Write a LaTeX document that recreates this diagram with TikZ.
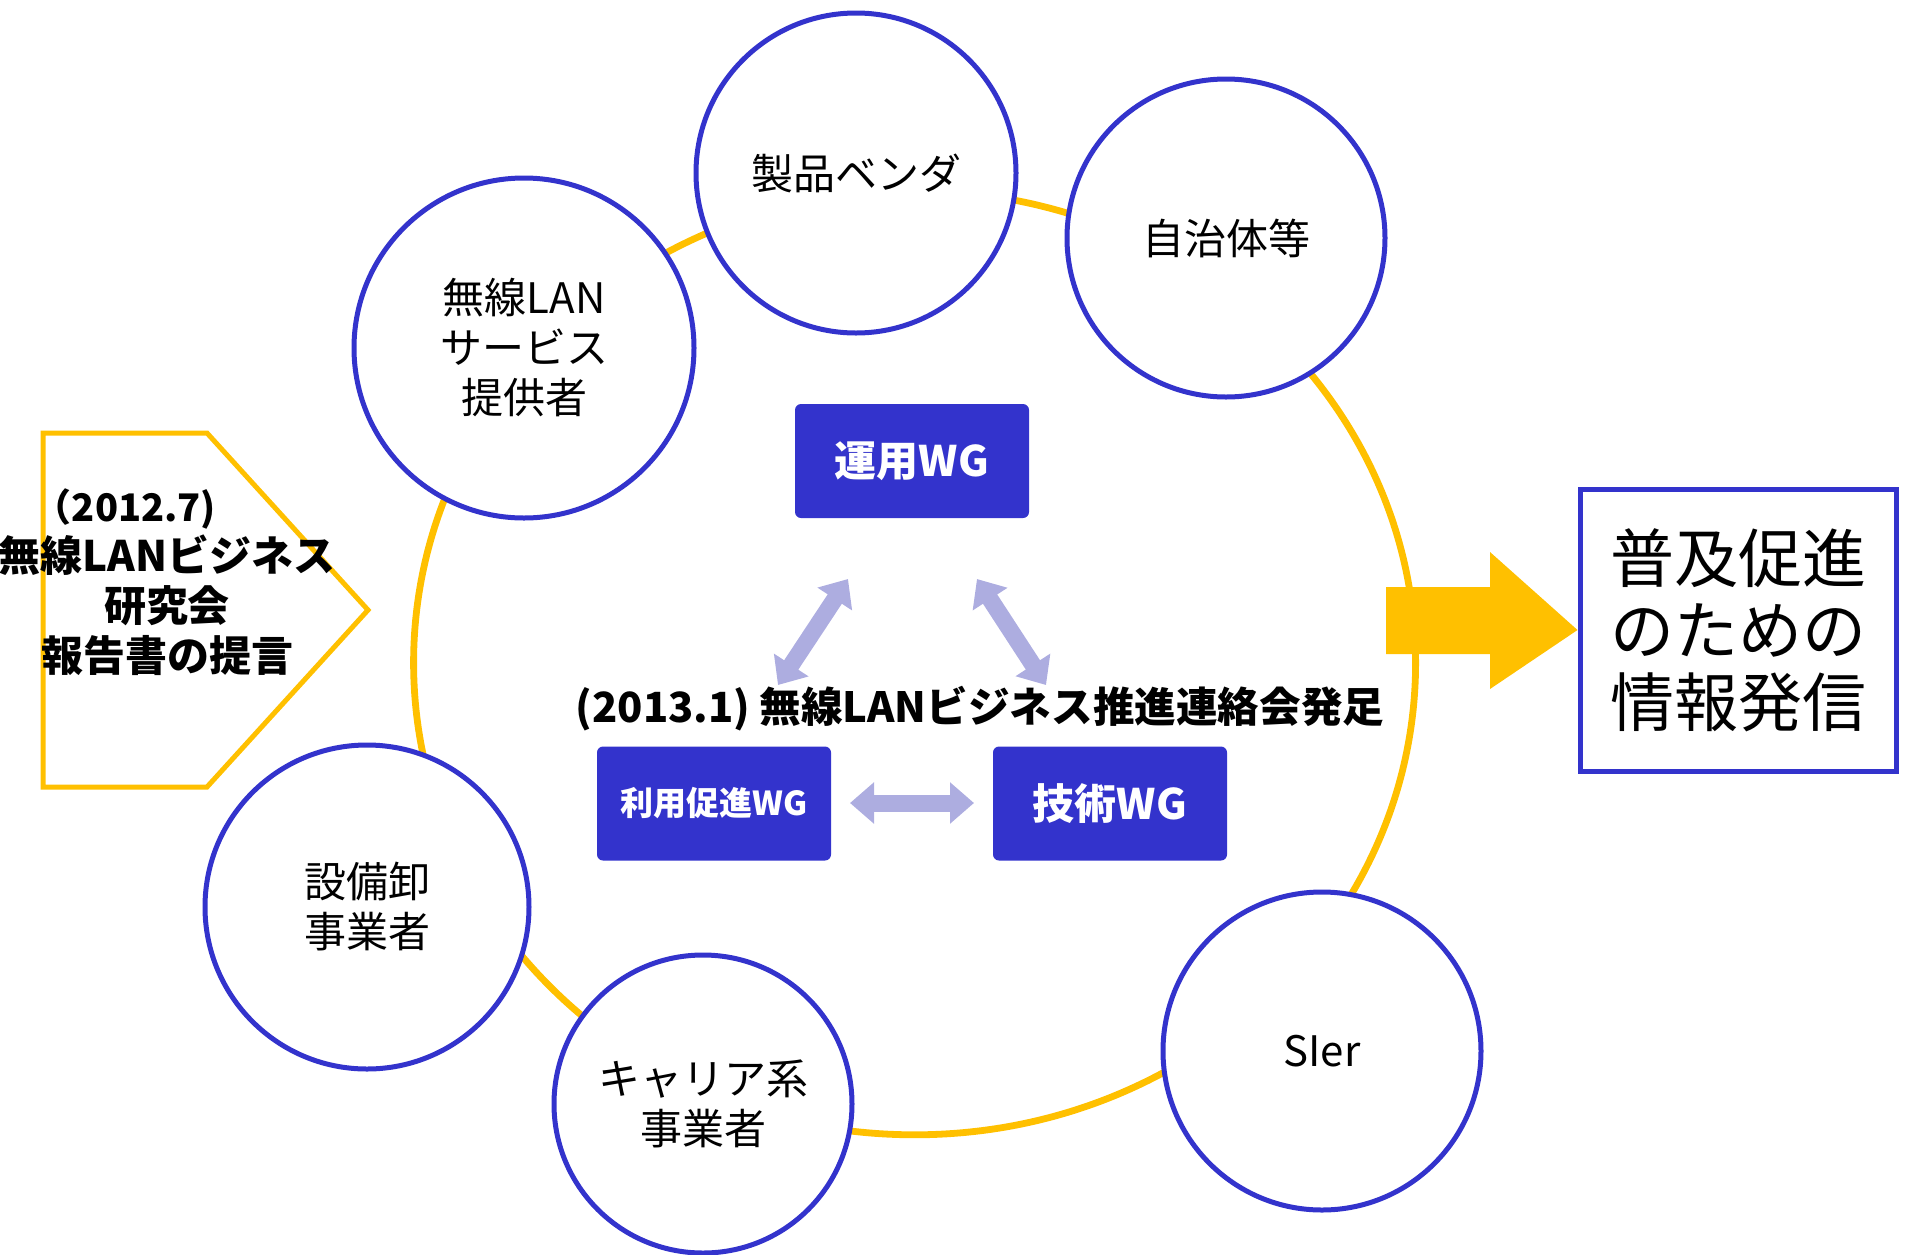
\documentclass[tikz,border=0pt]{standalone}
\usepackage{fontspec}
\setmainfont{Noto Sans CJK JP}
\usetikzlibrary{arrows.meta}
\definecolor{bluec}{HTML}{3333CC}
\definecolor{ringc}{HTML}{FFC000}
\definecolor{arrc}{HTML}{ADADE0}
\begin{document}
\begin{tikzpicture}[x=0.5pt,y=-0.5pt,
  circ/.style={circle, draw=bluec, line width=2.5pt, fill=white, align=center, inner sep=0pt,
    font=\fontsize{21}{25}\selectfont},
  wg/.style={rectangle, rounded corners=3pt, fill=bluec, text=white, inner sep=0pt,
    minimum width=117pt, minimum height=57pt, font=\bfseries\fontsize{21}{25}\selectfont},
  dbl/.style={draw=arrc, line width=8.5pt,
    {Triangle[length=12pt,width=20pt]}-{Triangle[length=12pt,width=20pt]}}]
\useasboundingbox (0,0) rectangle (1907,1254);
% ring
\draw[ringc, line width=3.4pt] (914.6,662.8) ellipse [x radius=250.5pt, y radius=236pt];
% circles
\node[circ, minimum size=160pt] (vendor) at (856,173) {製品ベンダ};
\node[circ, minimum size=159pt] (jichitai) at (1226,238) {自治体等};
\node[circ, minimum size=170pt] (isp) at (524,348) {無線LAN\\サービス\\提供者};
\node[circ, minimum size=162pt] (setsubi) at (367,907) {設備卸\\事業者};
\node[circ, minimum size=149pt] (carrier) at (703,1104) {キャリア系\\事業者};
\node[circ, minimum size=159pt] (sier) at (1322,1051) {SIer};
% pentagon
\draw[ringc, line width=2.5pt] (43,433) -- (207,433) -- (368,610) -- (207,787) -- (43,787) -- cycle;
\node[align=center, font=\bfseries\fontsize{21}{25}\selectfont] (report) at (167,582)
  {{\fontsize{19}{20}\selectfont （2012.7)}\rule{42pt}{0pt}\\無線LANビジネス\\研究会\\報告書の提言};
% WG boxes
\node[wg] (unyo) at (912,461) {運用WG};
\node[wg, font=\bfseries\fontsize{16.5}{20}\selectfont] (riyo) at (714,803.5) {利用促進WG};
\node[wg] (gijutsu) at (1110,803.5) {技術WG};
\node[font=\bfseries\fontsize{20.8}{24}\selectfont] (title) at (980,709) {(2013.1) 無線LANビジネス推進連絡会発足};
% arrows
\coordinate (l1) at (778,685); \coordinate (l2) at (848,579);
\coordinate (r1) at (977,579); \coordinate (r2) at (1046,685);
\coordinate (h1) at (850,803); \coordinate (h2) at (974,803);
\draw[dbl] (l1) -- (l2);
\draw[dbl] (r1) -- (r2);
\draw[dbl] (h1) -- (h2);
% info box
\node[draw=bluec, line width=2.5pt, minimum width=158pt, minimum height=141pt, align=center,
  inner sep=0pt, font=\fontsize{32}{36}\selectfont] (info) at (1738,630) {普及促進\\のための\\情報発信};
% big arrow
\fill[ringc] (1386,587) -- (1490,587) -- (1490,552) -- (info.west) -- (1490,689) -- (1490,654) -- (1386,654) -- cycle;
\end{tikzpicture}
\end{document}
